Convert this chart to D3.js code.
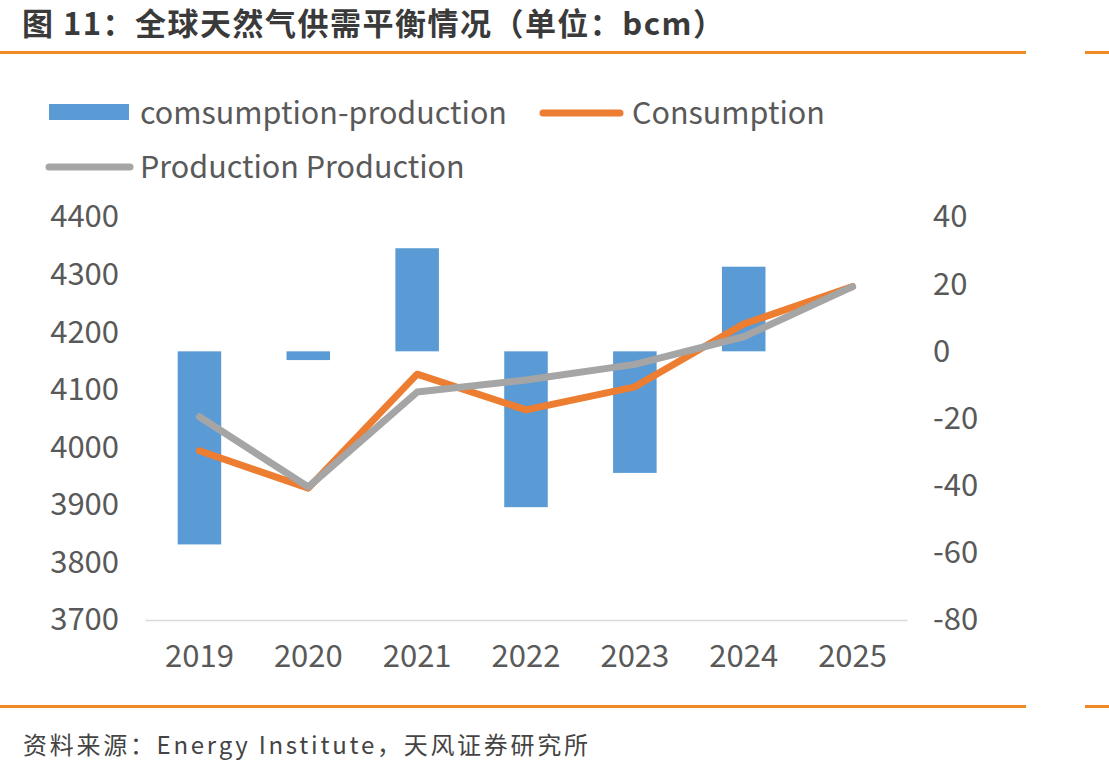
<!DOCTYPE html>
<html><head><meta charset="utf-8">
<script src="https://cdn.jsdelivr.net/npm/d3@7"></script>
<style>
body{margin:0;background:#fff;}
text{font-family:"Noto Sans CJK SC","Noto Sans",sans-serif;}
</style></head>
<body>
<svg id="c" width="1109" height="773"></svg>
<script>
const years = ["2019","2020","2021","2022","2023","2024","2025"];
const consumption = [3994, 3929, 4127, 4065, 4105, 4214, 4279];
const production = [4053, 3931, 4096, 4117, 4144, 4192, 4279];
const gap = [-57.5, -2.6, 30.7, -46.4, -36.2, 25.2, null];
const leftTicks = [3700, 3800, 3900, 4000, 4100, 4200, 4300, 4400];
const rightTicks = [-80, -60, -40, -20, 0, 20, 40];
const seriesNames = ["comsumption-production", "Consumption", "Production Production"];
const titleText = "图 11：全球天然气供需平衡情况（单位：bcm）";
const sourceText = "资料来源：Energy  Institute，天风证券研究所";

(function(){
const svg = d3.select("#c");
const orange = "#F08A24";
const blue = "#5B9BD5", lineOrange = "#ED7D31", grey = "#A5A5A5";
const pL = 145, pR = 907, pT = 217, pB = 620;

const x = d3.scaleBand().domain(years).range([pL, pR]).paddingInner(0.6).paddingOuter(0.3);
const yL = d3.scaleLinear().domain([3700, 4400]).range([pB, pT]);
const yR = d3.scaleLinear().domain([-80, 40]).range([pB, pT]);

// title
svg.append("text").attr("x", 22).attr("y", 35).attr("font-size", 31).attr("font-weight", "bold")
  .attr("fill", "#3a3a3a").attr("textLength", 702).attr("lengthAdjust", "spacing").text(titleText);
svg.append("rect").attr("x", 0).attr("y", 51).attr("width", 1026).attr("height", 3).attr("fill", orange);
svg.append("rect").attr("x", 1085).attr("y", 51).attr("width", 24).attr("height", 3).attr("fill", orange);
svg.append("rect").attr("x", 0).attr("y", 705).attr("width", 1026).attr("height", 3).attr("fill", orange);
svg.append("rect").attr("x", 1085).attr("y", 705).attr("width", 24).attr("height", 3).attr("fill", orange);
svg.append("text").attr("x", 23).attr("y", 754).attr("font-size", 24).attr("fill", "#444")
  .attr("textLength", 565).attr("lengthAdjust", "spacing").text(sourceText);

// axes
const fmt = d => String(d);
const gL = svg.append("g").attr("transform", `translate(${pL},0)`)
  .call(d3.axisLeft(yL).tickValues(leftTicks).tickFormat(fmt).tickSize(0).tickPadding(26));
gL.select(".domain").remove();
const gR = svg.append("g").attr("transform", `translate(${pR},0)`)
  .call(d3.axisRight(yR).tickValues(rightTicks).tickFormat(fmt).tickSize(0).tickPadding(26));
gR.select(".domain").remove();
const gX = svg.append("g").attr("transform", `translate(0,${pB})`)
  .call(d3.axisBottom(x).tickSize(0).tickPadding(25));
gX.select(".domain").attr("stroke", "#d9d9d9").attr("stroke-width", 1.5);
svg.selectAll(".tick text").attr("font-size", 31).attr("fill", "#595959")
  .attr("font-family", "\"Noto Sans CJK SC\",sans-serif");

// bars
svg.append("g").selectAll("rect").data(years.map((y, i) => ({y, v: gap[i]})).filter(d => d.v !== null))
  .join("rect")
  .attr("x", d => x(d.y)).attr("width", x.bandwidth())
  .attr("y", d => yR(Math.max(0, d.v))).attr("height", d => Math.abs(yR(d.v) - yR(0)))
  .attr("fill", blue);

const mk = d3.line().x((d, i) => x(years[i]) + x.bandwidth() / 2).y(d => yL(d));
svg.append("path").attr("d", mk(consumption))
  .attr("fill", "none").attr("stroke", lineOrange).attr("stroke-width", 7)
  .attr("stroke-linecap", "round").attr("stroke-linejoin", "round");
svg.append("path").attr("d", mk(production))
  .attr("fill", "none").attr("stroke", grey).attr("stroke-width", 7)
  .attr("stroke-linecap", "round").attr("stroke-linejoin", "round");

// legend
const lg = svg.append("g");
lg.append("rect").attr("x", 49).attr("y", 104).attr("width", 80).attr("height", 16).attr("fill", blue);
lg.append("text").attr("x", 140).attr("y", 124).attr("font-size", 30.5).attr("fill", "#595959").text(seriesNames[0]);
lg.append("line").attr("x1", 543).attr("x2", 620).attr("y1", 113).attr("y2", 113)
  .attr("stroke", lineOrange).attr("stroke-width", 7).attr("stroke-linecap", "round");
lg.append("text").attr("x", 632).attr("y", 124).attr("font-size", 30.5).attr("fill", "#595959").text(seriesNames[1]);
lg.append("line").attr("x1", 49).attr("x2", 130).attr("y1", 167).attr("y2", 167)
  .attr("stroke", grey).attr("stroke-width", 7).attr("stroke-linecap", "round");
lg.append("text").attr("x", 140).attr("y", 178).attr("font-size", 30.5).attr("fill", "#595959").text(seriesNames[2]);
})();
</script>
</body></html>
